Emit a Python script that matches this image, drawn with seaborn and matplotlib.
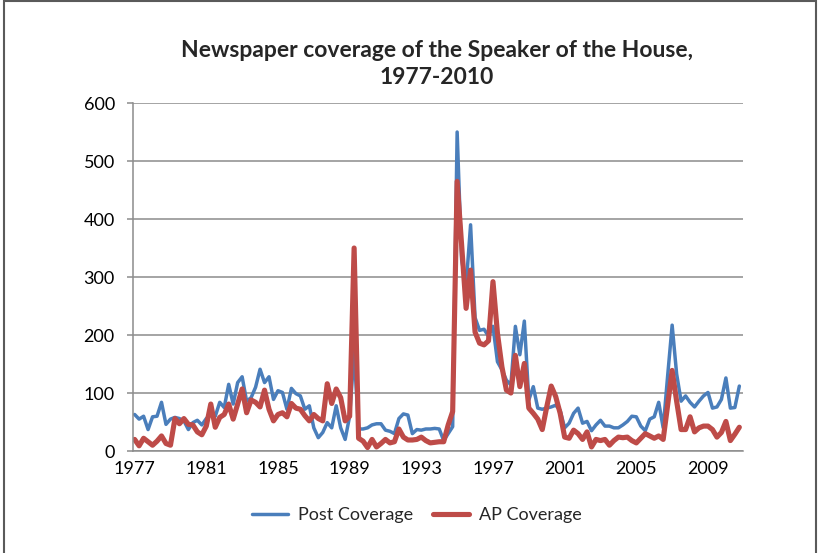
import matplotlib
matplotlib.use("Agg")
import matplotlib.pyplot as plt
import matplotlib.patches as mpatches
import seaborn as sns
import pandas as pd
import numpy as np

# Quarterly data, 1977 Q1 .. 2010 Q4
start_year = 1977
post_coverage = [
    63, 55, 60, 37, 59, 60, 84, 46, 55, 58, 56, 52, 37, 49, 53, 45,
    56, 63, 60, 84, 75, 115, 81, 118, 128, 86, 92, 110, 141, 118, 128, 89,
    104, 101, 72, 108, 99, 95, 72, 78, 40, 23, 32, 49, 40, 78, 40, 20,
    60, 170, 38, 38, 40, 45, 47, 47, 36, 34, 30, 56, 64, 62, 30, 37,
    36, 38, 38, 39, 38, 18, 30, 42, 550, 330, 285, 390, 230, 208, 210, 198,
    215, 154, 140, 122, 114, 215, 166, 224, 88, 111, 74, 72, 74, 76, 79, 70,
    40, 48, 65, 74, 48, 51, 35, 45, 53, 43, 43, 40, 40, 45, 51, 60,
    59, 43, 35, 55, 59, 84, 40, 130, 217, 133, 86, 95, 84, 76, 86, 95,
    101, 74, 76, 89, 126, 74, 75, 112,
]
ap_coverage = [
    20, 9, 22, 16, 10, 17, 26, 13, 10, 56, 47, 56, 46, 45, 33, 28,
    43, 81, 41, 58, 63, 81, 55, 81, 107, 66, 88, 84, 76, 105, 72, 52,
    63, 66, 59, 82, 74, 72, 61, 52, 63, 56, 52, 116, 82, 107, 92, 52,
    60, 350, 22, 17, 6, 20, 7, 13, 20, 14, 16, 38, 24, 19, 19, 20,
    24, 18, 14, 15, 16, 16, 45, 68, 465, 355, 246, 312, 205, 186, 183, 190,
    292, 203, 145, 105, 100, 165, 111, 151, 74, 65, 55, 37, 76, 112, 94, 65,
    24, 22, 36, 30, 20, 33, 7, 20, 18, 20, 10, 18, 24, 23, 24, 18,
    14, 22, 30, 26, 22, 26, 20, 80, 139, 86, 37, 37, 59, 33, 40, 43,
    43, 37, 24, 32, 51, 18, 29, 41,
]
series_names = ["Post Coverage", "AP Coverage"]
x_tick_years = list(range(1977, 2010, 4))
y_ticks = [0, 100, 200, 300, 400, 500, 600]
title = "Newspaper coverage of the Speaker of the House,\n1977-2010"

n = len(post_coverage)
t = [start_year + i / 4 for i in range(n)]
df = pd.DataFrame({
    "t": t + t,
    "value": post_coverage + ap_coverage,
    "series": [series_names[0]] * n + [series_names[1]] * n,
})

sns.set_style("white")
plt.rcParams["font.family"] = ["Lato", "DejaVu Sans"]

fig = plt.figure(figsize=(8.2, 5.53), dpi=100)
ax = fig.add_axes([0.162, 0.1844, 0.744, 0.6293])

palette = {"Post Coverage": "#4A7EBB", "AP Coverage": "#BE4B48"}
sns.lineplot(data=df, x="t", y="value", hue="series", palette=palette,
             size="series", sizes={"Post Coverage": 2.5, "AP Coverage": 3.7},
             ax=ax, legend=False, estimator=None)

ax.set_xlim(start_year - 0.1, start_year + 135.8 / 4)
ax.set_ylim(0, 600)
ax.set_yticks(y_ticks)
ax.set_xticks(x_tick_years)
ax.set_xticklabels([str(y) for y in x_tick_years])
ax.set_xlabel("")
ax.set_ylabel("")
ax.grid(axis="y", color="#8C8C8C", linewidth=1.1)
ax.grid(axis="x", visible=False)
ax.set_axisbelow(True)
for s in ["top", "right"]:
    ax.spines[s].set_visible(False)
for s in ["left", "bottom"]:
    ax.spines[s].set_color("#8C8C8C")
    ax.spines[s].set_linewidth(1.1)
ax.tick_params(axis="y", length=4, color="#8C8C8C", width=1.1, pad=9,
               labelsize=13, labelcolor="#000000", left=True)
ax.tick_params(axis="x", length=0, pad=7, labelsize=13, labelcolor="#000000")

fig.suptitle(title, x=0.533, y=0.928, fontsize=16.5, fontweight="bold",
             linespacing=1.35)

handles = [
    plt.Line2D([], [], color=palette["Post Coverage"], linewidth=2.5),
    plt.Line2D([], [], color=palette["AP Coverage"], linewidth=3.7),
]
fig.legend(handles, series_names, loc="center", bbox_to_anchor=(0.508, 0.068),
           ncol=2, frameon=False, fontsize=13, handlelength=2.0,
           columnspacing=1.1, handletextpad=0.55)

border = mpatches.Rectangle((3.5 / 820, -0.05), 812.5 / 820, 1.05 - 1.5 / 553,
                            transform=fig.transFigure, fill=False,
                            edgecolor="#5A5A5A", linewidth=1.5)
fig.patches.append(border)

fig.savefig("out.png", dpi=100)
